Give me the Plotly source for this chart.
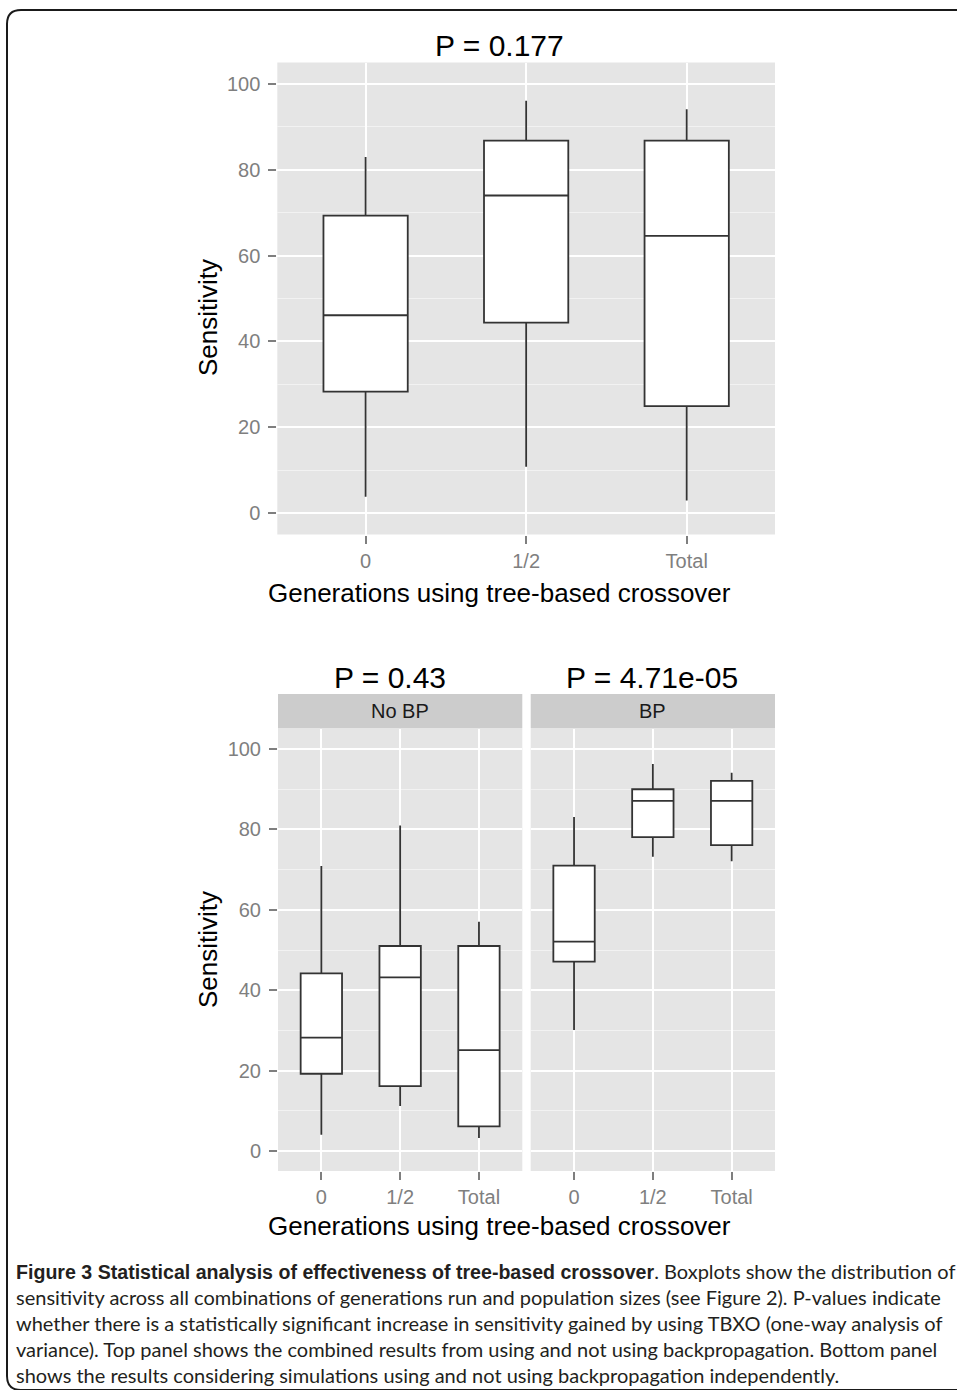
import plotly.graph_objects as go

# ---------------- data ----------------
categories = ["0", "1/2", "Total"]

# Top panel (combined)
top_low = [3.8, 10.8, 2.9]
top_q1 = [28.3, 44.4, 24.9]
top_median = [46.1, 74.0, 64.6]
top_q3 = [69.3, 86.8, 86.8]
top_high = [83.0, 96.1, 94.1]

# Bottom panel, facet "No BP"
nobp_low = [4.0, 11.2, 3.2]
nobp_q1 = [19.2, 16.1, 6.1]
nobp_median = [28.2, 43.2, 25.1]
nobp_q3 = [44.2, 51.0, 51.0]
nobp_high = [70.9, 81.0, 57.0]

# Bottom panel, facet "BP"
bp_low = [30.1, 73.2, 72.1]
bp_q1 = [47.1, 78.1, 76.1]
bp_median = [52.1, 87.1, 87.1]
bp_q3 = [71.0, 90.0, 92.1]
bp_high = [83.1, 96.3, 94.1]

facet_labels = ["No BP", "BP"]
top_title = "P = 0.177"
facet_titles = ["P = 0.43", "P = 4.71e-05"]
y_ticks = [0, 20, 40, 60, 80, 100]
y_minor = [10, 30, 50, 70, 90]
x_title = "Generations using tree-based crossover"
y_title = "Sensitivity"

caption_bold = "Figure 3 Statistical analysis of effectiveness of tree-based crossover"
caption_lines = [
    ". Boxplots show the distribution of",
    "sensitivity across all combinations of generations run and population sizes (see Figure 2). P-values indicate",
    "whether there is a statistically significant increase in sensitivity gained by using TBXO (one-way analysis of",
    "variance). Top panel shows the combined results from using and not using backpropagation. Bottom panel",
    "shows the results considering simulations using and not using backpropagation independently.",
]

# ---------------- layout helpers ----------------
W, H = 957, 1390
def fx(x):
    return x / W
def fy(y):
    return 1 - y / H

FONT = "Liberation Sans, Arial, sans-serif"
TICK_GREY = "#7F7F7F"
LINE = "#333333"

fig = go.Figure()

def add_box(xa, ya, lo, q1, med, q3, hi):
    fig.add_trace(go.Box(
        x=categories, lowerfence=lo, q1=q1, median=med, q3=q3, upperfence=hi,
        xaxis=xa, yaxis=ya, fillcolor="white",
        line=dict(color=LINE, width=1.8), whiskerwidth=0,
        boxpoints=False, showlegend=False, hoverinfo="skip",
    ))

add_box("x", "y", top_low, top_q1, top_median, top_q3, top_high)
add_box("x2", "y2", nobp_low, nobp_q1, nobp_median, nobp_q3, nobp_high)
add_box("x3", "y3", bp_low, bp_q1, bp_median, bp_q3, bp_high)

def xaxis_cfg(domain, anchor):
    return dict(
        domain=domain, anchor=anchor, type="category", range=[-0.55, 2.55],
        showgrid=True, gridcolor="white", gridwidth=1.6, zeroline=False,
        showline=False, ticks="outside", ticklen=8, tickwidth=1.5,
        tickcolor=TICK_GREY, tickfont=dict(family=FONT, size=20, color=TICK_GREY),
        fixedrange=True,
    )

def yaxis_cfg(domain, anchor, labels=True):
    return dict(
        domain=domain, anchor=anchor, range=[-5, 105], tickmode="array",
        tickvals=y_ticks, showgrid=True, gridcolor="white", gridwidth=1.6,
        zeroline=False, showline=False,
        ticks="outside" if labels else "", ticklen=8, tickwidth=1.5,
        tickcolor=TICK_GREY, showticklabels=labels, ticklabelstandoff=4,
        tickfont=dict(family=FONT, size=20, color=TICK_GREY),
        minor=dict(tickmode="array", tickvals=y_minor, showgrid=True,
                   gridcolor="#F2F2F2", gridwidth=1.0, ticks=""),
        fixedrange=True,
    )

top_x = [fx(277.3), fx(775)]
top_y = [fy(534.5), fy(62.5)]
b1_x = [fx(278), fx(522.3)]
b2_x = [fx(530.7), fx(775)]
b_y = [fy(1171), fy(729)]

fig.update_layout(
    width=W, height=H, margin=dict(l=0, r=0, t=0, b=0),
    paper_bgcolor="white", plot_bgcolor="#E5E5E5", showlegend=False,
    boxgap=0.25,
    xaxis=xaxis_cfg(top_x, "y"), yaxis=yaxis_cfg(top_y, "x"),
    xaxis2=xaxis_cfg(b1_x, "y2"), yaxis2=yaxis_cfg(b_y, "x2"),
    xaxis3=xaxis_cfg(b2_x, "y3"), yaxis3=yaxis_cfg(b_y, "x3", labels=False),
)

shapes = []
# strips
for dom in (b1_x, b2_x):
    shapes.append(dict(type="rect", xref="paper", yref="paper",
                       x0=dom[0], x1=dom[1], y0=fy(728.5), y1=fy(694),
                       fillcolor="#CCCCCC", line=dict(width=0), layer="below"))
# frame
path = (f"M 1.02,{fy(10)} L {fx(21)},{fy(10)} Q {fx(7)},{fy(10)} {fx(7)},{fy(24)} "
        f"L {fx(7)},{fy(1376)} Q {fx(7)},{fy(1390)} {fx(21)},{fy(1390)} L 1.02,{fy(1390)}")
shapes.append(dict(type="path", xref="paper", yref="paper", path=path,
                   line=dict(color="#1A1A1A", width=2)))
fig.update_layout(shapes=shapes)

ann = []
def add_text(text, x, y, size, color="black", angle=0, xanchor="center", family=FONT):
    ann.append(dict(text=text, x=fx(x), y=fy(y), xref="paper", yref="paper",
                    showarrow=False, textangle=angle, xanchor=xanchor, yanchor="middle",
                    font=dict(family=family, size=size, color=color)))

add_text(top_title, 499, 46, 30)
add_text(facet_titles[0], 390, 678, 30)
add_text(facet_titles[1], 652, 678, 30)
add_text(facet_labels[0], (b1_x[0] + b1_x[1]) / 2 * W, 711, 20, color="#1A1A1A")
add_text(facet_labels[1], (b2_x[0] + b2_x[1]) / 2 * W, 711, 20, color="#1A1A1A")
add_text(y_title, 208, 318, 26, angle=-90)
add_text(y_title, 208, 950, 26, angle=-90)
add_text(x_title, 499, 593, 26)
add_text(x_title, 499, 1226, 26)

cap_y = [1271, 1297, 1323, 1349, 1375]
first = (f"<span style='font-family:Liberation Sans, Arial, sans-serif;font-size:19.6px'>"
         f"<b>{caption_bold}</b></span>" + caption_lines[0])
cap_texts = [first] + caption_lines[1:]
for line, yy in zip(cap_texts, cap_y):
    add_text(line, 14, yy, 20, color="#231F20", xanchor="left", family="Lato, sans-serif")

fig.update_layout(annotations=ann)
fig.write_html(
    "out.html",
    config={"displayModeBar": False},
    post_script="document.body.style.margin='0';document.body.style.overflow='hidden';",
)
